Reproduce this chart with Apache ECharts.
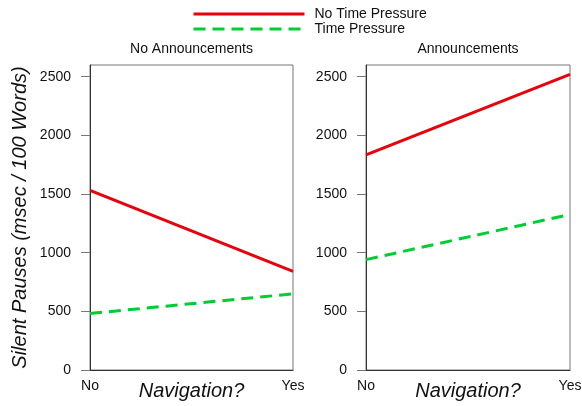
<!DOCTYPE html>
<html>
<head>
<meta charset="utf-8">
<script src="https://cdn.jsdelivr.net/npm/echarts@6/dist/echarts.min.js"></script>
<style>
  html, body { margin: 0; padding: 0; background: #fff; }
  #chart { width: 582px; height: 406px; }
</style>
</head>
<body>
<div id="chart"></div>
<script>
var navigation = ['No', 'Yes']
var panels = ['No Announcements', 'Announcements']
var yTicks = [0, 500, 1000, 1500, 2000, 2500]
// silent pauses per condition
var noAnnNoPressure = [1531, 840]
var noAnnPressure = [482, 649]
var annNoPressure = [1834, 2520]
var annPressure = [941, 1326]

var font = 'Liberation Sans, Arial, Helvetica, sans-serif'
var red = '#e8000b'
var green = '#00cc33'

function xAxis(idx) {
  return {
    gridIndex: idx,
    type: 'category',
    data: navigation,
    boundaryGap: false,
    axisLine: { show: true, lineStyle: { color: '#333', width: 1 } },
    axisTick: { show: false },
    axisLabel: { color: '#111', fontSize: 14, fontFamily: font, margin: 9 },
    name: 'Navigation?',
    nameLocation: 'middle',
    nameGap: 11,
    nameMoveOverlap: false,
    nameTextStyle: { fontSize: 20, fontStyle: 'italic', color: '#111', fontFamily: font }
  }
}

function yAxis(idx) {
  var ax = {
    gridIndex: idx,
    type: 'value',
    min: 0,
    max: 2600,
    interval: 500,
    splitLine: { show: false },
    axisLine: { show: true, lineStyle: { color: '#333', width: 1 } },
    axisTick: { show: true, length: 9, lineStyle: { color: '#777' }, customValues: yTicks },
    axisLabel: {
      color: '#111', fontSize: 14, fontFamily: font, margin: 19, customValues: yTicks,
      formatter: function(v) { return String(v) }
    }
  }
  if (idx === 0) {
    ax.name = 'Silent Pauses (msec / 100 Words)'
    ax.nameLocation = 'middle'
    ax.nameGap = 60
    ax.nameMoveOverlap = false
    ax.nameTextStyle = { fontSize: 20, fontStyle: 'italic', color: '#111', fontFamily: font }
  }
  return ax
}

function line(name, idx, values, color, dashed) {
  return {
    name: name,
    type: 'line',
    xAxisIndex: idx,
    yAxisIndex: idx,
    data: values,
    symbol: 'none',
    silent: true,
    lineStyle: { color: color, width: 3, type: dashed ? [12, 7] : 'solid' },
    itemStyle: { color: color }
  }
}

var chart = echarts.init(document.getElementById('chart'))
chart.setOption({
  animation: false,
  textStyle: { fontFamily: font },
  title: [
    { text: panels[0], left: 191.5, top: 42, textAlign: 'center', padding: 0,
      textStyle: { fontSize: 14, fontWeight: 'normal', color: '#111', fontFamily: font } },
    { text: panels[1], left: 468, top: 42, textAlign: 'center', padding: 0,
      textStyle: { fontSize: 14, fontWeight: 'normal', color: '#111', fontFamily: font } }
  ],
  legend: {
    orient: 'vertical',
    left: 192,
    top: 7,
    padding: 0,
    itemWidth: 111,
    itemHeight: 14,
    itemGap: 1,
    itemStyle: { opacity: 0 },
    lineStyle: { width: 3 },
    data: ['No Time Pressure', 'Time Pressure'],
    textStyle: { fontSize: 14, color: '#111', fontFamily: font, padding: [0, 0, 0, 5] }
  },
  grid: [
    { left: 90, right: 289, top: 65, bottom: 36, outerBoundsMode: 'none', show: true, borderColor: '#777', borderWidth: 1 },
    { left: 366, right: 12, top: 65, bottom: 36, outerBoundsMode: 'none', show: true, borderColor: '#777', borderWidth: 1 }
  ],
  xAxis: [xAxis(0), xAxis(1)],
  yAxis: [yAxis(0), yAxis(1)],
  series: [
    line('No Time Pressure', 0, noAnnNoPressure, red, false),
    line('Time Pressure', 0, noAnnPressure, green, true),
    line('No Time Pressure', 1, annNoPressure, red, false),
    line('Time Pressure', 1, annPressure, green, true)
  ]
})
</script>
</body>
</html>
